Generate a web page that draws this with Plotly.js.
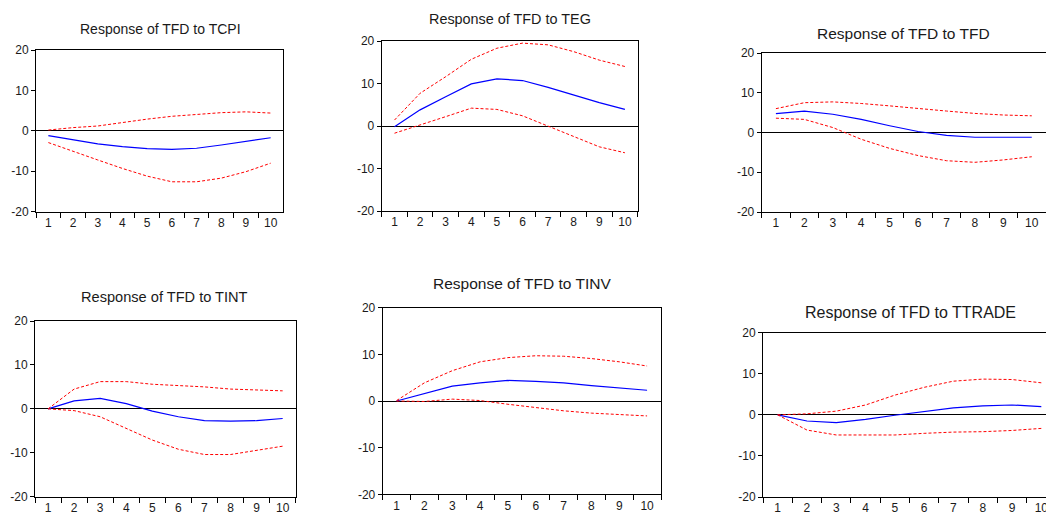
<!DOCTYPE html>
<html>
<head>
<meta charset="utf-8">
<script src="https://cdn.plot.ly/plotly-3.0.1.min.js"></script>
<style>html,body{margin:0;padding:0;background:#fff;} #chart{width:1046px;height:515px;}</style>
</head>
<body>
<div id="chart"></div>
<script>
// Horizon (periods) used as category tick labels
const periods = ['1','2','3','4','5','6','7','8','9','10'];
const yTicks = [-20, -10, 0, 10, 20];
const yTickLabels = ['-20', '-10', '0', '10', '20'];

// Panel titles
const titles = [
  'Response of TFD to TCPI',
  'Response of TFD to TEG',
  'Response of TFD to TFD',
  'Response of TFD to TINT',
  'Response of TFD to TINV',
  'Response of TFD to TTRADE'
];

// Impulse responses (blue) and ±2 S.E. bands (red dashed)
const tcpiResp  = [-1.2, -2.2, -3.2, -3.9, -4.4, -4.6, -4.3, -3.5, -2.6, -1.7];
const tcpiUpper = [0.2, 0.8, 1.2, 2.1, 2.9, 3.6, 4.1, 4.5, 4.7, 4.4];
const tcpiLower = [-2.9, -5.1, -7.2, -9.3, -11.2, -12.6, -12.6, -11.7, -10.1, -8.0];

const tegResp  = [-0.2, 3.8, 6.9, 9.9, 11.1, 10.7, 9.1, 7.3, 5.5, 3.9];
const tegUpper = [1.4, 7.7, 11.6, 15.7, 18.3, 19.5, 19.1, 17.5, 15.5, 14.0];
const tegLower = [-1.7, 0.2, 2.2, 4.2, 3.9, 2.4, 0.0, -2.5, -4.9, -6.3];

const tfdResp  = [4.75, 5.4, 4.6, 3.3, 1.7, 0.25, -0.7, -1.2, -1.2, -1.2];
const tfdUpper = [6.0, 7.5, 7.7, 7.3, 6.7, 6.0, 5.4, 4.8, 4.4, 4.2];
const tfdLower = [3.6, 3.3, 1.25, -1.7, -4.0, -5.8, -7.1, -7.5, -6.9, -6.1];

const tintResp  = [0.0, 1.8, 2.4, 1.2, -0.5, -1.8, -2.7, -2.8, -2.7, -2.2];
const tintUpper = [0.0, 4.5, 6.2, 6.2, 5.6, 5.3, 5.0, 4.5, 4.3, 4.1];
const tintLower = [0.0, -0.4, -1.8, -4.4, -7.1, -9.2, -10.4, -10.4, -9.5, -8.5];

const tinvResp  = [0.0, 1.6, 3.2, 3.9, 4.4, 4.2, 3.9, 3.3, 2.8, 2.3];
const tinvUpper = [0.1, 3.9, 6.5, 8.4, 9.3, 9.7, 9.6, 9.1, 8.4, 7.5];
const tinvLower = [0.0, -0.1, 0.4, 0.1, -0.7, -1.4, -2.1, -2.6, -2.9, -3.2];

const ttradeResp  = [0.0, -1.5, -1.9, -1.1, -0.1, 0.8, 1.7, 2.2, 2.4, 2.0];
const ttradeUpper = [0.0, 0.25, 0.9, 2.4, 4.8, 6.7, 8.2, 8.7, 8.6, 7.8];
const ttradeLower = [0.0, -3.7, -4.9, -4.9, -4.9, -4.5, -4.2, -4.1, -3.8, -3.3];

const panelData = [
  [tcpiResp, tcpiUpper, tcpiLower],
  [tegResp, tegUpper, tegLower],
  [tfdResp, tfdUpper, tfdLower],
  [tintResp, tintUpper, tintLower],
  [tinvResp, tinvUpper, tinvLower],
  [ttradeResp, ttradeUpper, ttradeLower]
];

const W = 1046, H = 515;
// pixel boxes [left, right, top, bottom], xmax = visible range end
const boxes = [
  {l: 36,    r: 283,   t: 50,    b: 211.7, xmax: 9.5},
  {l: 381.7, r: 637.7, t: 41,    b: 211,   xmax: 9.5},
  {l: 761.7, r: 1046,  t: 53,    b: 212,   xmax: 9.5},
  {l: 35,    r: 295.7, t: 321,   b: 496.7, xmax: 9.5},
  {l: 382.7, r: 661,   t: 307.7, b: 494.3, xmax: 9.5},
  {l: 763,   r: 1046,  t: 332.7, b: 497,   xmax: 9.16}
];
const titlePos = [
  {x: 160, y: 29, s: 14},
  {x: 510, y: 19, s: 14.4},
  {x: 903, y: 33, s: 15.5},
  {x: 164, y: 297, s: 14.6},
  {x: 521.7, y: 283, s: 15.5},
  {x: 910, y: 312, s: 16}
];

const traces = [];
const layout = {
  width: W, height: H,
  margin: {l: 0, r: 0, t: 0, b: 0, pad: 0},
  paper_bgcolor: '#fff', plot_bgcolor: '#fff',
  showlegend: false,
  font: {family: 'Liberation Sans, Arial, sans-serif', size: 12, color: '#1a1a1a'},
  annotations: []
};

panelData.forEach((d, i) => {
  const n = i === 0 ? '' : String(i + 1);
  const xa = 'x' + n, ya = 'y' + n;
  const styles = [
    {color: '#0000ff', width: 1.2, dash: 'solid'},
    {color: '#ff0000', width: 1, dash: '3px,2px'},
    {color: '#ff0000', width: 1, dash: '3px,2px'}
  ];
  d.forEach((vals, k) => {
    traces.push({
      x: periods, y: vals, type: 'scatter', mode: 'lines',
      xaxis: xa, yaxis: ya, line: styles[k], hoverinfo: 'skip'
    });
  });
  const b = boxes[i];
  layout['xaxis' + n] = {
    type: 'category', domain: [b.l / W, b.r / W], anchor: ya,
    range: [-0.5, b.xmax], showgrid: false, zeroline: false,
    showline: true, linecolor: '#000', linewidth: 1, mirror: true,
    ticks: 'outside', ticklen: 5, tickcolor: '#000', tickson: 'boundaries',
    tickfont: {size: 12, color: '#1a1a1a'}, fixedrange: true
  };
  layout['yaxis' + n] = {
    domain: [1 - b.b / H, 1 - b.t / H], anchor: xa,
    range: [-20, 20], tickmode: 'array', tickvals: yTicks, ticktext: yTickLabels,
    showgrid: false,
    zeroline: true, zerolinecolor: '#000', zerolinewidth: 1,
    showline: true, linecolor: '#000', linewidth: 1, mirror: true,
    ticks: 'outside', ticklen: 4, tickcolor: '#000',
    tickfont: {size: 12, color: '#1a1a1a'}, fixedrange: true
  };
  const tp = titlePos[i];
  layout.annotations.push({
    text: titles[i], xref: 'paper', yref: 'paper',
    x: tp.x / W, y: 1 - tp.y / H, xanchor: 'center', yanchor: 'middle',
    showarrow: false, font: {size: tp.s, color: '#1a1a1a'}
  });
});

Plotly.newPlot('chart', traces, layout, {staticPlot: true, displayModeBar: false});
</script>
</body>
</html>
